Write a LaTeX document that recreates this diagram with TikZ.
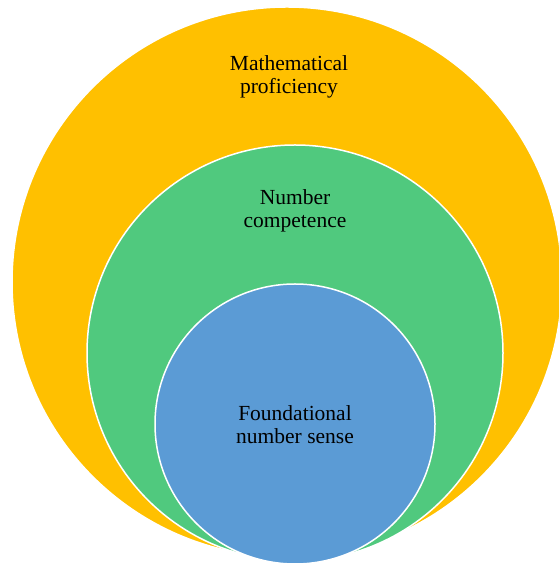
\documentclass[tikz,border=0pt]{standalone}
\usepackage{fontspec}
\setmainfont{Liberation Serif}
\definecolor{ringyellow}{HTML}{FFC000}
\definecolor{ringgreen}{HTML}{50C97E}
\definecolor{ringblue}{HTML}{5B9BD5}
\begin{document}
\begin{tikzpicture}[x=1pt,y=1pt,
  ring/.style={draw=white, line width=1.5pt},
  label/.style={align=center, text=black, font=\fontsize{21.5}{23}\selectfont, inner sep=0pt}]
\useasboundingbox (0,0) rectangle (559,564);
\clip (0,0) rectangle (559,564);
\fill[white] (0,0) rectangle (559,564);
\path[ring, fill=ringyellow] (287,282) circle[radius=275];
\path[ring, fill=ringgreen] (295,211) circle[radius=208];
\path[ring, fill=ringblue] (295,140) circle[radius=140];
\node[label] (math) at (289,487) {Mathematical\\proficiency};
\node[label] (comp) at (295,353) {Number\\competence};
\node[label] (found) at (295,139) {Foundational\\number sense};
\end{tikzpicture}
\end{document}
